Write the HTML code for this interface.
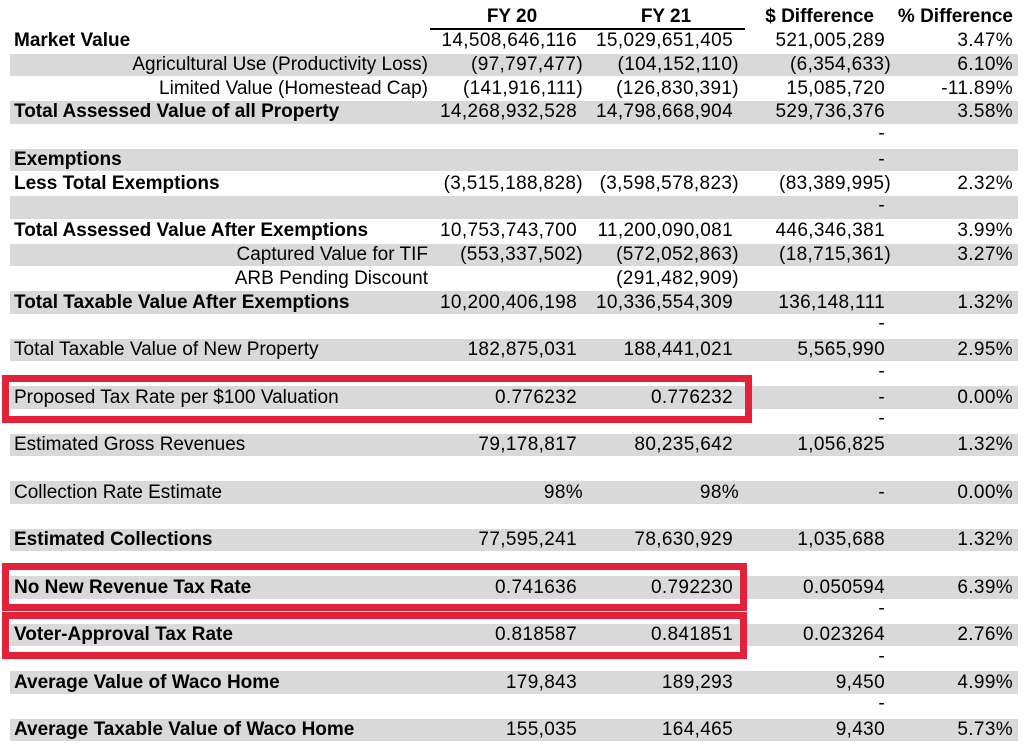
<!DOCTYPE html>
<html><head><meta charset="utf-8"><style>
*{margin:0;padding:0;box-sizing:border-box}
body{width:1024px;height:755px;background:#fff;position:relative;overflow:hidden;font-family:"Liberation Sans",Arial,sans-serif;font-size:19px;color:#000}
.band{position:absolute;left:10px;width:1008px;height:22.5px;background:#d9d9d9}
.t{position:absolute;white-space:nowrap;line-height:23.76px;height:23.76px}
.n{letter-spacing:0.35px}
.b{font-weight:bold}
.r{text-align:right}
.box{position:absolute;border:7px solid #e3213b}
.h{position:absolute;font-weight:bold;top:6px;line-height:22px}
</style></head><body>
<div class="h" style="left:466px;width:92px;text-align:center">FY 20</div>
<div class="h" style="left:620px;width:92px;text-align:center">FY 21</div>
<div class="h" style="right:150px">$ Difference</div>
<div class="h" style="right:11px">% Difference</div>
<div style="position:absolute;left:430px;width:315px;top:28px;height:2px;background:#000"></div>
<div id="rows"></div>
<div class="box" style="left:2px;top:375px;width:750px;height:48px"></div>
<div class="box" style="left:2px;top:563px;width:745px;height:48px"></div>
<div class="box" style="left:2px;top:612px;width:745px;height:47px"></div>
<script>
(function(){
var R=[
["Market Value",1,0,"14,508,646,116","15,029,651,405","521,005,289","3.47%"],
["Agricultural Use (Productivity Loss)",0,1,"(97,797,477)","(104,152,110)","(6,354,633)","6.10%"],
["Limited Value (Homestead Cap)",0,1,"(141,916,111)","(126,830,391)","15,085,720","-11.89%"],
["Total Assessed Value of all Property",1,0,"14,268,932,528","14,798,668,904","529,736,376","3.58%"],
["",0,0,"","","-",""],
["Exemptions",1,0,"","","-",""],
["Less Total Exemptions",1,0,"(3,515,188,828)","(3,598,578,823)","(83,389,995)","2.32%"],
["",0,0,"","","-",""],
["Total Assessed Value After Exemptions",1,0,"10,753,743,700","11,200,090,081","446,346,381","3.99%"],
["Captured Value for TIF",0,1,"(553,337,502)","(572,052,863)","(18,715,361)","3.27%"],
["ARB Pending Discount",0,1,"","(291,482,909)","",""],
["Total Taxable Value After Exemptions",1,0,"10,200,406,198","10,336,554,309","136,148,111","1.32%"],
["",0,0,"","","-",""],
["Total Taxable Value of New Property",0,0,"182,875,031","188,441,021","5,565,990","2.95%"],
["",0,0,"","","-",""],
["Proposed Tax Rate per $100 Valuation",0,0,"0.776232","0.776232","-","0.00%"],
["",0,0,"","","-",""],
["Estimated Gross Revenues",0,0,"79,178,817","80,235,642","1,056,825","1.32%"],
["",0,0,"","","",""],
["Collection Rate Estimate",0,0,"98%","98%","-","0.00%"],
["",0,0,"","","",""],
["Estimated Collections",1,0,"77,595,241","78,630,929","1,035,688","1.32%"],
["",0,0,"","","",""],
["No New Revenue Tax Rate",1,0,"0.741636","0.792230","0.050594","6.39%"],
["",0,0,"","","-",""],
["Voter-Approval Tax Rate",1,0,"0.818587","0.841851","0.023264","2.76%"],
["",0,0,"","","-",""],
["Average Value of Waco Home",1,0,"179,843","189,293","9,450","4.99%"],
["",0,0,"","","-",""],
["Average Taxable Value of Waco Home",1,0,"155,035","164,465","9,430","5.73%"]];
var h="";
function cell(v,right,y,dash){
 if(!v)return "";
 var p=v.charAt(0)=="("||v.slice(-1)=="%";
 var rr=1024-right-(p?6:0);
 if(dash) y-=2;
 return '<div class="t r n" style="right:'+rr+'px;top:'+y+'px">'+v+'</div>';
}
for(var i=0;i<R.length;i++){
 var r=R[i],y=29.2+i*23.76;
 if(i%2==1)h+='<div class="band" style="top:'+(y+0.6)+'px"></div>';
 if(r[0]){
  if(r[2])h+='<div class="t r" style="right:'+(1024-428)+'px;top:'+y+'px">'+r[0]+'</div>';
  else h+='<div class="t'+(r[1]?' b':'')+'" style="left:14px;top:'+y+'px">'+r[0]+'</div>';
 }
 var blank=!r[0];
 h+=cell(r[3],577,y);
 h+=cell(r[4],733,y);
 h+=cell(r[5],885,y,blank);
 if(r[6])h+='<div class="t r n" style="right:11px;top:'+y+'px">'+r[6]+'</div>';
}
document.getElementById("rows").innerHTML=h;
})();
</script>
</body></html>
